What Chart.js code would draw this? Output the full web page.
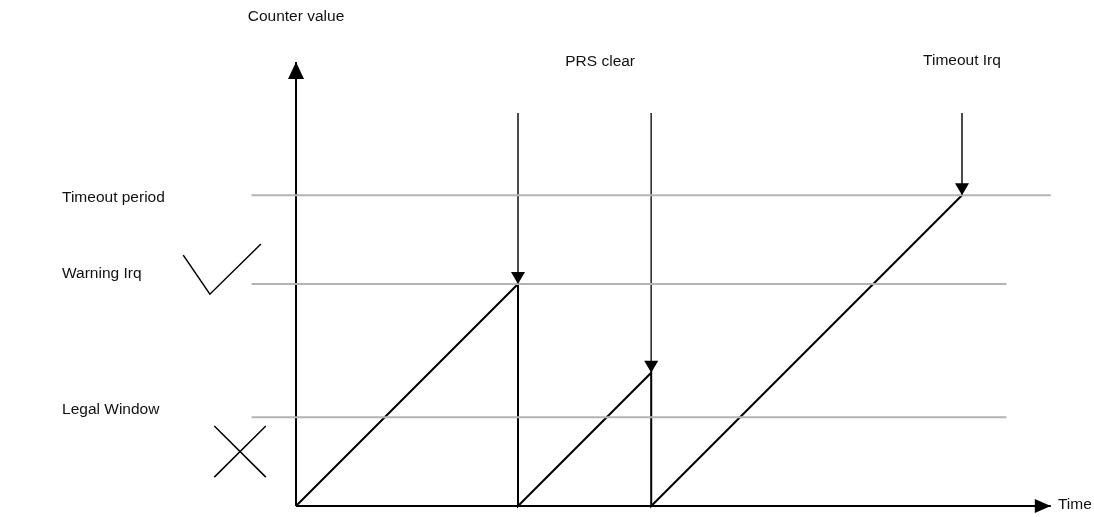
<!DOCTYPE html>
<html>
<head>
<meta charset="utf-8">
<script src="https://cdn.jsdelivr.net/npm/chart.js@4.4.1/dist/chart.umd.min.js"></script>
<style>
    body { margin: 0; background: #fff; }
    #wrap { width: 1094px; height: 517px; position: relative; }
</style>
</head>
<body>
<div id="wrap"><canvas id="watchdogChart"></canvas></div>
<script>
// Threshold levels of the counter
const levelNames = ['Legal Window', 'Warning Irq', 'Timeout period'];
const levelValues = [2, 5, 7];
const levelStart = [-1, -1, -1];
const levelEnd = [16, 16, 17];

// Counter value over time (sawtooth)
const counterTimes = [0, 5, 5, 8, 8, 15];
const counterValues = [0, 5, 0, 3, 0, 7];

// Events marked with arrows from the top
const eventTimes = [5, 8, 15];
const eventValues = [5, 3, 7];
const eventTop = 8.85;

// Axis extents
const axisTimeEnd = 17;
const axisCounterEnd = 10;

// Check mark and cross next to the levels
const checkTimes = [-2.54, -1.94, -0.79];
const checkValues = [5.65, 4.77, 5.90];
const crossTimes = [-1.84, -0.68];
const crossValues = [1.80, 0.65];

// Text labels: text, time, counter, align
const labelTexts = ['Counter value', 'PRS clear', 'Timeout Irq', 'Time', 'Timeout period', 'Warning Irq', 'Legal Window'];
const labelTimes = [0, 6.85, 15, 17.16, -5.27, -5.27, -5.27];
const labelValues = [11.01, 10.01, 10.02, 0.03, 6.94, 5.22, 2.16];
const labelAlign = ['center', 'center', 'center', 'left', 'left', 'left', 'left'];

const black = '#000000';
const grey = '#b3b3b3';

function pts(xs, ys) {
    return xs.map((x, i) => ({ x: x, y: ys[i] }));
}

const datasets = [];

// grey level lines
levelValues.forEach((v, i) => {
    datasets.push({
        data: pts([levelStart[i], levelEnd[i]], [v, v]),
        borderColor: grey, borderWidth: 2
    });
});

// axes with arrow heads
datasets.push({ data: pts([0, 0], [0, axisCounterEnd]), borderColor: black, borderWidth: 2, arrow: { len: 17, wid: 16 } });
datasets.push({ data: pts([0, axisTimeEnd], [0, 0]), borderColor: black, borderWidth: 2, arrow: { len: 16, wid: 14 } });

// the counter
datasets.push({ data: pts(counterTimes, counterValues), borderColor: black, borderWidth: 2 });

// event arrows
eventTimes.forEach((t, i) => {
    datasets.push({
        data: pts([t, t], [eventTop, eventValues[i]]),
        borderColor: '#333333', borderWidth: 1, arrow: { len: 12, wid: 14 }
    });
});

// check mark and cross
datasets.push({ data: pts(checkTimes, checkValues), borderColor: black, borderWidth: 1.5 });
datasets.push({ data: pts(crossTimes, crossValues), borderColor: black, borderWidth: 1.5 });
datasets.push({ data: pts(crossTimes, crossValues.slice().reverse()), borderColor: black, borderWidth: 1.5 });

// draws a filled triangle at the end of datasets that have an arrow
const arrowPlugin = {
    id: 'arrows',
    afterDatasetsDraw(chart) {
        const ctx = chart.ctx;
        chart.data.datasets.forEach((ds, i) => {
            if (!ds.arrow) return;
            const el = chart.getDatasetMeta(i).data;
            const a = el[el.length - 2], b = el[el.length - 1];
            const ang = Math.atan2(b.y - a.y, b.x - a.x);
            ctx.save();
            ctx.translate(b.x, b.y);
            ctx.rotate(ang);
            ctx.fillStyle = black;
            ctx.beginPath();
            ctx.moveTo(0, 0);
            ctx.lineTo(-ds.arrow.len, -ds.arrow.wid / 2);
            ctx.lineTo(-ds.arrow.len, ds.arrow.wid / 2);
            ctx.closePath();
            ctx.fill();
            ctx.restore();
        });
    }
};

// text labels placed through the scales
const labelPlugin = {
    id: 'labels',
    afterDraw(chart) {
        const ctx = chart.ctx;
        const xs = chart.scales.x, ys = chart.scales.y;
        ctx.save();
        ctx.font = '15.5px "Liberation Sans", Arial, sans-serif';
        ctx.fillStyle = '#111111';
        ctx.textBaseline = 'middle';
        labelTexts.forEach((txt, i) => {
            ctx.textAlign = labelAlign[i];
            ctx.fillText(txt, xs.getPixelForValue(labelTimes[i]), ys.getPixelForValue(labelValues[i]));
        });
        ctx.restore();
    }
};

const ctxWatchdog = document.getElementById('watchdogChart').getContext('2d');
const watchdogChart = new Chart(ctxWatchdog, {
    type: 'scatter',
    data: { datasets: datasets },
    options: {
        responsive: true,
        maintainAspectRatio: false,
        animation: false,
        showLine: true,
        layout: { padding: 0 },
        elements: {
            point: { radius: 0, hoverRadius: 0 },
            line: { tension: 0, fill: false, borderCapStyle: 'butt', borderJoinStyle: 'miter' }
        },
        plugins: { legend: { display: false }, tooltip: { enabled: false } },
        scales: {
            // one unit = 44.4 px in both directions, origin at (296, 506)
            x: { type: 'linear', display: false, min: -6.667, max: 17.973 },
            y: { type: 'linear', display: false, min: -0.248, max: 11.396 }
        }
    },
    plugins: [arrowPlugin, labelPlugin]
});
</script>
</body>
</html>
